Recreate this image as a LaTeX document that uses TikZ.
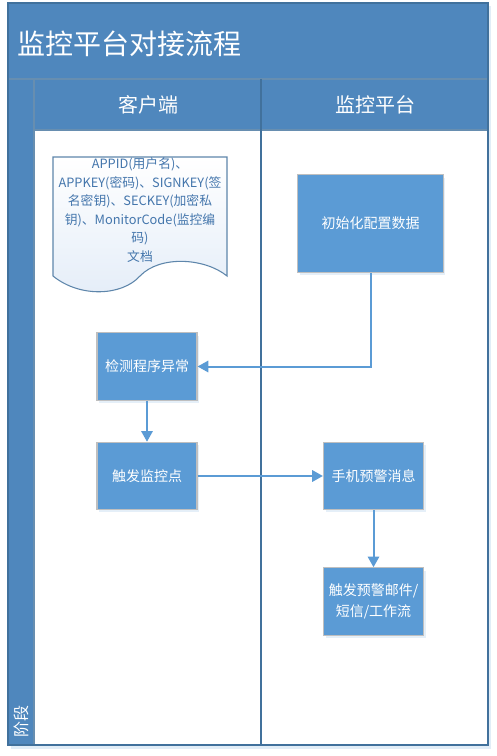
\documentclass[tikz,border=0pt]{standalone}
\usepackage{fontspec}
\setmainfont{Noto Sans CJK SC}
\usetikzlibrary{arrows.meta,shadows}
\definecolor{bandblue}{RGB}{79,135,189}
\definecolor{edgeblue}{RGB}{65,113,156}
\definecolor{stepblue}{RGB}{91,155,213}
\definecolor{stepgray}{RGB}{191,191,191}
\definecolor{doctext}{RGB}{68,118,172}
\definecolor{docfill}{RGB}{228,237,248}

\begin{document}
\begin{tikzpicture}[x=0.75pt,y=-0.75pt,
    stepbox/.style={draw=stepgray,line width=0.9pt,fill=stepblue,text=white,
        minimum width=75pt,minimum height=50.5pt,inner sep=2pt,align=center,
        font=\fontsize{10.5}{15.5}\selectfont,
        drop shadow={shadow xshift=1.5pt,shadow yshift=-2pt,fill=stepblue!35,opacity=0.45}},
    lanetext/.style={text=white,font=\fontsize{15}{18}\selectfont},
    flow/.style={stepblue,line width=1.5pt,-{Triangle[length=8pt,width=8.5pt]}}]
        \useasboundingbox (0,0) rectangle (496,756);

        % pool frame
        \fill[stepblue!18] (11,6) rectangle (491,749);
        \fill[bandblue] (8,3) rectangle (488,130);
        \fill[bandblue] (8,130) rectangle (34,745);
        \fill[white] (34,130) rectangle (488,745);
        \draw[edgeblue!80, line width=0.8pt] (8,79) -- (488,79);
        \draw[edgeblue!80, line width=0.8pt] (34,130) -- (488,130);
        \draw[edgeblue!80, line width=0.8pt] (34,79) -- (34,745);
        \draw[edgeblue, line width=1.1pt] (261,79) -- (261,745);
        \draw[edgeblue, line width=1.1pt] (8,3) rectangle (488,745);

        \node[anchor=west,text=white,font=\fontsize{21}{24}\selectfont] (title) at (13,44) {监控平台对接流程};
        \node[lanetext] (client) at (148,105) {客户端};
        \node[lanetext] (platform) at (375,105) {监控平台};
        \node[rotate=90,anchor=west,text=white,font=\fontsize{12}{14}\selectfont] (phase) at (21,742) {阶段};

        % document
        \shade[top color=white,bottom color=docfill] (53,157) -- (227,157) -- (227,276)
            .. controls (205,258) and (160,255) .. (140,276)
            .. controls (122,296) and (80,298) .. (53,276) -- cycle;
        \draw[edgeblue!85, line width=0.8pt] (53,157) -- (227,157) -- (227,276)
            .. controls (205,258) and (160,255) .. (140,276)
            .. controls (122,296) and (80,298) .. (53,276) -- cycle;
        \node[text=doctext,align=center,font=\fontsize{9.6}{13.9}\selectfont] (doc) at (140,210)
            {APPID(用户名)、\\APPKEY(密码)、SIGNKEY(签\\名密钥)、SECKEY(加密私\\钥)、MonitorCode(监控编\\码)\\文档};

        \node[stepbox,minimum width=109pt,minimum height=73pt] (init) at (370.5,223.5) {初始化配置数据};
        \node[stepbox] (check) at (147,366.5) {检测程序异常};
        \node[stepbox] (trigger) at (147,476) {触发监控点};
        \node[stepbox] (sms) at (373.5,476) {手机预警消息};
        \node[stepbox] (notify) at (373.5,601.5) {触发预警邮件/\\短信/工作流};

        \draw[flow] (init.south) |- (check.east);
        \draw[flow] (check) -- (trigger);
        \draw[flow] (trigger) -- (sms);
        \draw[flow] (sms) -- (notify);
\end{tikzpicture}
\end{document}
